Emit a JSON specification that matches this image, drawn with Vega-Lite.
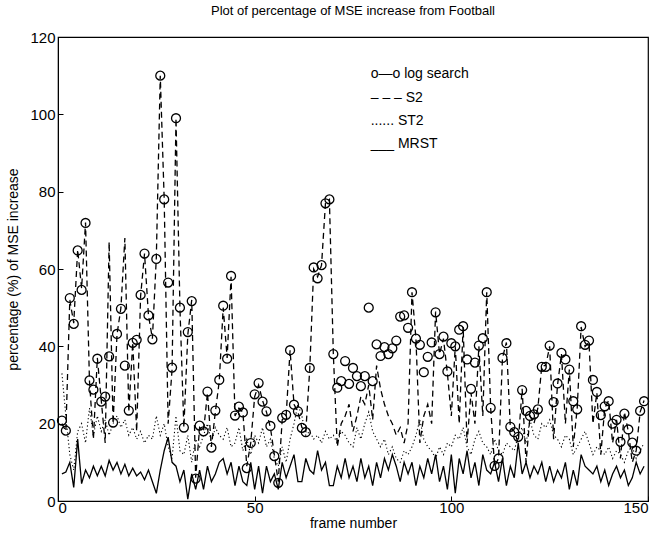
{
  "$schema": "https://vega.github.io/schema/vega-lite/v6.json",
  "width": 590,
  "height": 464,
  "autosize": "none",
  "padding": {"left": 58, "top": 37, "right": 12, "bottom": 40},
  "background": "white",
  "config": {
    "view": {"stroke": "black", "strokeWidth": 1.2},
    "font": "Liberation Sans",
    "axis": {"grid": false, "domainColor": "black", "tickColor": "black", "labelColor": "black", "titleColor": "black", "labelFont": "Liberation Sans", "titleFont": "Liberation Sans", "labelFontSize": 15, "titleFontSize": 14, "titleFontWeight": "normal", "tickSize": -5, "labelPadding": 8}
  },
  "title": {"text": "Plot of percentage of MSE increase from Football", "fontSize": 13, "fontWeight": "normal", "font": "Liberation Sans", "offset": 12, "color": "black"},
  "data": {"values": [
    {"f":1,"L":20.8,"S":20,"T":33,"M":7},
    {"f":2,"L":18.2,"S":18,"T":22,"M":7.5},
    {"f":3,"L":52.5,"S":52,"T":12,"M":10},
    {"f":4,"L":45.8,"S":46,"T":8,"M":3.5},
    {"f":5,"L":64.8,"S":65,"T":18,"M":16},
    {"f":6,"L":54.6,"S":55,"T":20,"M":4.5},
    {"f":7,"L":71.9,"S":72,"T":15,"M":8},
    {"f":8,"L":31.2,"S":31,"T":24,"M":6},
    {"f":9,"L":28.8,"S":16,"T":17,"M":9},
    {"f":10,"L":36.8,"S":37,"T":22,"M":6.5},
    {"f":11,"L":25.7,"S":26,"T":18,"M":9},
    {"f":12,"L":27,"S":15,"T":21,"M":6.5},
    {"f":13,"L":37.4,"S":67,"T":17,"M":10.5},
    {"f":14,"L":20.3,"S":20,"T":20,"M":8},
    {"f":15,"L":43.2,"S":43,"T":22,"M":10},
    {"f":16,"L":49.7,"S":50,"T":19,"M":7},
    {"f":17,"L":35,"S":68,"T":21,"M":9.5},
    {"f":18,"L":23.4,"S":23,"T":17,"M":6.5},
    {"f":19,"L":40.9,"S":41,"T":19,"M":8.5},
    {"f":20,"L":41.7,"S":18,"T":16,"M":6.5},
    {"f":21,"L":53.3,"S":53,"T":18,"M":7.5},
    {"f":22,"L":64,"S":64,"T":15,"M":5.5},
    {"f":23,"L":48,"S":48,"T":17,"M":8},
    {"f":24,"L":41.8,"S":42,"T":16,"M":5},
    {"f":25,"L":62.6,"S":63,"T":22,"M":2},
    {"f":26,"L":110,"S":110,"T":17,"M":8},
    {"f":27,"L":78,"S":78,"T":20,"M":13},
    {"f":28,"L":56.5,"S":20,"T":14,"M":16.5},
    {"f":29,"L":34.5,"S":34,"T":11,"M":10},
    {"f":30,"L":99,"S":99,"T":22,"M":9},
    {"f":31,"L":50,"S":50,"T":13,"M":5},
    {"f":32,"L":19,"S":19,"T":12,"M":8},
    {"f":33,"L":43.7,"S":43,"T":17,"M":0.5},
    {"f":34,"L":51.7,"S":52,"T":10,"M":7},
    {"f":35,"L":5.8,"S":6,"T":16,"M":3},
    {"f":36,"L":19.5,"S":19,"T":14,"M":8},
    {"f":37,"L":18,"S":18,"T":17,"M":3},
    {"f":38,"L":28.3,"S":28,"T":20,"M":9},
    {"f":39,"L":13.8,"S":14,"T":15,"M":5},
    {"f":40,"L":23.4,"S":23,"T":19,"M":7},
    {"f":41,"L":31.3,"S":31,"T":17,"M":10},
    {"f":42,"L":50.5,"S":50,"T":16,"M":11},
    {"f":43,"L":36.8,"S":37,"T":19,"M":7},
    {"f":44,"L":58.2,"S":58,"T":14,"M":10},
    {"f":45,"L":22.1,"S":22,"T":15,"M":4},
    {"f":46,"L":24.4,"S":24,"T":19,"M":9},
    {"f":47,"L":22.9,"S":23,"T":13,"M":5},
    {"f":48,"L":8.5,"S":9,"T":16,"M":4},
    {"f":49,"L":15,"S":15,"T":12,"M":10},
    {"f":50,"L":27.6,"S":27,"T":17,"M":3},
    {"f":51,"L":30.5,"S":30,"T":15,"M":9},
    {"f":52,"L":25.7,"S":26,"T":19,"M":2},
    {"f":53,"L":23.2,"S":23,"T":14,"M":9},
    {"f":54,"L":19.4,"S":19,"T":16,"M":5},
    {"f":55,"L":11.6,"S":12,"T":11,"M":7},
    {"f":56,"L":4.7,"S":5,"T":9,"M":3},
    {"f":57,"L":21.5,"S":21,"T":14,"M":10},
    {"f":58,"L":22.3,"S":22,"T":10,"M":6},
    {"f":59,"L":39,"S":39,"T":16,"M":9},
    {"f":60,"L":24.9,"S":25,"T":20,"M":12},
    {"f":61,"L":23.2,"S":23,"T":25,"M":5},
    {"f":62,"L":18.9,"S":19,"T":22,"M":5},
    {"f":63,"L":17.8,"S":18,"T":17,"M":11},
    {"f":64,"L":34.4,"S":34,"T":18,"M":8},
    {"f":65,"L":60.4,"S":60,"T":16,"M":7},
    {"f":66,"L":57.6,"S":58,"T":17,"M":13},
    {"f":67,"L":61,"S":61,"T":15,"M":8},
    {"f":68,"L":77,"S":77,"T":18,"M":10},
    {"f":69,"L":78,"S":78,"T":16,"M":4},
    {"f":70,"L":38,"S":38,"T":17,"M":4},
    {"f":71,"L":29.3,"S":14,"T":15,"M":9},
    {"f":72,"L":31,"S":20,"T":18,"M":6},
    {"f":73,"L":36.2,"S":22,"T":17,"M":11},
    {"f":74,"L":30.3,"S":25,"T":15,"M":6},
    {"f":75,"L":34.4,"S":18,"T":14,"M":9},
    {"f":76,"L":32.3,"S":22,"T":19,"M":5},
    {"f":77,"L":29.7,"S":27,"T":16,"M":11},
    {"f":78,"L":32.3,"S":25,"T":20,"M":6},
    {"f":79,"L":50,"S":30,"T":23,"M":9},
    {"f":80,"L":31,"S":21,"T":18,"M":4},
    {"f":81,"L":40.5,"S":35,"T":16,"M":10},
    {"f":82,"L":37.5,"S":29,"T":14,"M":6},
    {"f":83,"L":39.8,"S":25,"T":16,"M":11},
    {"f":84,"L":38,"S":22,"T":12,"M":8},
    {"f":85,"L":39.5,"S":20,"T":14,"M":12},
    {"f":86,"L":41.5,"S":17,"T":11,"M":9},
    {"f":87,"L":47.7,"S":19,"T":10,"M":5},
    {"f":88,"L":48,"S":15,"T":13,"M":10},
    {"f":89,"L":44.8,"S":20,"T":12,"M":7},
    {"f":90,"L":54,"S":54,"T":14,"M":10},
    {"f":91,"L":42,"S":42,"T":17,"M":4},
    {"f":92,"L":40.4,"S":15,"T":21,"M":9},
    {"f":93,"L":33.3,"S":22,"T":16,"M":6},
    {"f":94,"L":37.3,"S":25,"T":14,"M":11},
    {"f":95,"L":41,"S":20,"T":13,"M":7},
    {"f":96,"L":48.8,"S":49,"T":11,"M":12},
    {"f":97,"L":38,"S":38,"T":14,"M":5},
    {"f":98,"L":42.5,"S":42,"T":12,"M":9},
    {"f":99,"L":33.5,"S":33,"T":15,"M":3},
    {"f":100,"L":40.8,"S":22,"T":14,"M":12},
    {"f":101,"L":40,"S":40,"T":17,"M":2},
    {"f":102,"L":44.3,"S":20,"T":16,"M":11},
    {"f":103,"L":45.2,"S":45,"T":19,"M":7},
    {"f":104,"L":36.6,"S":15,"T":14,"M":13},
    {"f":105,"L":29,"S":28,"T":12,"M":6},
    {"f":106,"L":35.8,"S":20,"T":16,"M":10},
    {"f":107,"L":40.2,"S":40,"T":18,"M":4},
    {"f":108,"L":42.1,"S":22,"T":15,"M":12},
    {"f":109,"L":54,"S":54,"T":14,"M":8},
    {"f":110,"L":24.1,"S":24,"T":12,"M":7},
    {"f":111,"L":9.1,"S":9,"T":16,"M":10},
    {"f":112,"L":11,"S":11,"T":13,"M":5},
    {"f":113,"L":37,"S":37,"T":12,"M":11},
    {"f":114,"L":40.8,"S":41,"T":15,"M":4},
    {"f":115,"L":19.2,"S":19,"T":14,"M":9},
    {"f":116,"L":17.8,"S":18,"T":13,"M":6},
    {"f":117,"L":16.6,"S":15,"T":17,"M":15},
    {"f":118,"L":28.7,"S":29,"T":19,"M":7},
    {"f":119,"L":23.3,"S":10,"T":15,"M":10},
    {"f":120,"L":22,"S":22,"T":21,"M":6},
    {"f":121,"L":22.4,"S":20,"T":17,"M":9},
    {"f":122,"L":23.7,"S":24,"T":16,"M":7},
    {"f":123,"L":34.7,"S":35,"T":20,"M":10},
    {"f":124,"L":34.7,"S":35,"T":19,"M":5},
    {"f":125,"L":40.2,"S":40,"T":21,"M":9},
    {"f":126,"L":25.6,"S":16,"T":17,"M":5},
    {"f":127,"L":30.4,"S":30,"T":16,"M":8},
    {"f":128,"L":38.3,"S":38,"T":14,"M":6},
    {"f":129,"L":36.6,"S":20,"T":17,"M":10},
    {"f":130,"L":34,"S":34,"T":16,"M":3},
    {"f":131,"L":25.8,"S":14,"T":12,"M":8},
    {"f":132,"L":23.7,"S":24,"T":14,"M":4},
    {"f":133,"L":45.2,"S":45,"T":16,"M":12},
    {"f":134,"L":40.4,"S":40,"T":18,"M":9},
    {"f":135,"L":41.5,"S":41,"T":15,"M":8},
    {"f":136,"L":31.3,"S":20,"T":12,"M":7},
    {"f":137,"L":28.2,"S":28,"T":14,"M":9},
    {"f":138,"L":22.2,"S":12,"T":13,"M":5},
    {"f":139,"L":24.5,"S":24,"T":12,"M":8},
    {"f":140,"L":25.8,"S":26,"T":14,"M":4},
    {"f":141,"L":20,"S":15,"T":11,"M":7},
    {"f":142,"L":21,"S":21,"T":13,"M":9},
    {"f":143,"L":15.3,"S":11,"T":12,"M":6},
    {"f":144,"L":22.6,"S":23,"T":10,"M":8},
    {"f":145,"L":18.5,"S":18,"T":13,"M":4},
    {"f":146,"L":15.1,"S":10,"T":14,"M":6},
    {"f":147,"L":13,"S":13,"T":11,"M":10},
    {"f":148,"L":23.3,"S":23,"T":13,"M":7},
    {"f":149,"L":25.8,"S":26,"T":15,"M":9}
  ]},
  "layer": [
    {
      "mark": {"type": "line", "color": "black", "strokeWidth": 1.1, "strokeDash": [1.2, 2.5]},
      "encoding": {
        "x": {"field": "f", "type": "quantitative", "scale": {"domain": [0, 150], "nice": false}, "axis": {"values": [0, 50, 100, 150], "title": "frame number", "labelPadding": 4, "titlePadding": 1}},
        "y": {"field": "T", "type": "quantitative", "scale": {"domain": [0, 120], "nice": false}, "axis": {"values": [0, 20, 40, 60, 80, 100, 120], "title": "percentage (%) of MSE increase", "titleX": -38}}
      }
    },
    {
      "mark": {"type": "line", "color": "black", "strokeWidth": 1.3, "strokeDash": [6, 4]},
      "encoding": {
        "x": {"field": "f", "type": "quantitative"},
        "y": {"field": "S", "type": "quantitative"}
      }
    },
    {
      "mark": {"type": "line", "color": "black", "strokeWidth": 1.3},
      "encoding": {
        "x": {"field": "f", "type": "quantitative"},
        "y": {"field": "M", "type": "quantitative"}
      }
    },
    {
      "mark": {"type": "point", "shape": "circle", "filled": false, "color": "black", "size": 80, "strokeWidth": 1.3, "opacity": 1},
      "encoding": {
        "x": {"field": "f", "type": "quantitative"},
        "y": {"field": "L", "type": "quantitative"}
      }
    },
    {
      "data": {"values": [
        {"lx": 79.5, "ly": 110.5, "label": "o—o log search"},
        {"lx": 79.5, "ly": 104.2, "label": "– – – S2"},
        {"lx": 79.5, "ly": 98.4, "label": "...... ST2"},
        {"lx": 79.5, "ly": 92.4, "label": "___ MRST"}
      ]},
      "mark": {"type": "text", "align": "left", "baseline": "middle", "fontSize": 14, "font": "Liberation Sans", "color": "black"},
      "encoding": {
        "x": {"field": "lx", "type": "quantitative"},
        "y": {"field": "ly", "type": "quantitative"},
        "text": {"field": "label"}
      }
    }
  ]
}
